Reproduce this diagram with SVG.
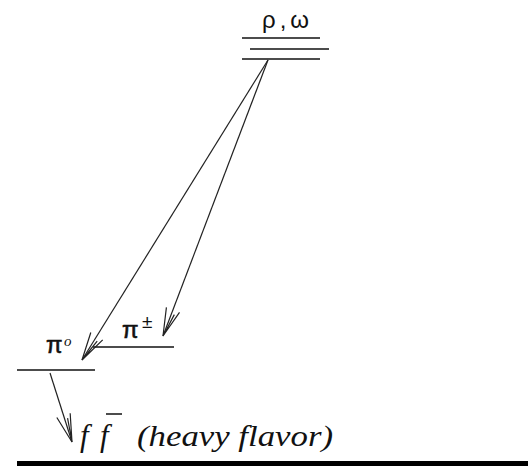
<svg xmlns="http://www.w3.org/2000/svg" width="528" height="467" viewBox="0 0 528 467">
<style>
.lvl{stroke:#111;stroke-width:1.6;fill:none}
.arr{stroke:#222;stroke-width:1.2;fill:none;marker-end:url(#head)}
.sym{font-family:"Liberation Sans","DejaVu Sans",sans-serif;fill:#111}
.pi{stroke:#111;stroke-width:0.6}
.it{font-family:"Liberation Serif","DejaVu Serif",serif;font-style:italic;fill:#111}
</style>
<defs>
<marker id="head" markerUnits="userSpaceOnUse" markerWidth="40" markerHeight="20" refX="0" refY="0" viewBox="-32 -10 34 20" orient="auto" overflow="visible">
<path d="M -28 -7 L 0 0 L -28 7 M -24 -3 L 0 0" fill="none" stroke="#222" stroke-width="1.2"/>
</marker>
</defs>
<rect width="528" height="467" fill="#fff"/>
<g id="rho-omega">
<text class="sym" x="262" y="28" font-size="24" letter-spacing="4">ρ,ω</text>
<line class="lvl" x1="242" y1="38" x2="320" y2="38"/>
<line class="lvl" x1="250" y1="49" x2="329" y2="49"/>
<line class="lvl" x1="242" y1="59" x2="320" y2="59"/>
</g>
<g id="pi-charged">
<text class="sym pi" x="122" y="338" font-size="24">π</text>
<text class="sym" x="142" y="328" font-size="19">±</text>
<line class="lvl" x1="93" y1="347" x2="174" y2="347"/>
</g>
<g id="pi-zero">
<text class="sym pi" x="46" y="353" font-size="24">π</text>
<text class="it" x="64" y="346" font-size="15">o</text>
<line class="lvl" x1="17" y1="370" x2="95" y2="370"/>
</g>
<g id="ffbar">
<text class="it" x="80" y="446" font-size="31">f</text>
<text class="it" x="100" y="446" font-size="31">f</text>
<line x1="106" y1="414" x2="122" y2="414" stroke="#111" stroke-width="1.5"/>
<text class="it" x="137" y="446" font-size="30" textLength="196" lengthAdjust="spacingAndGlyphs">(heavy flavor)</text>
</g>
<g id="connectors">
<line class="arr" x1="268" y1="60" x2="82" y2="360"/>
<line class="arr" x1="268" y1="60" x2="163" y2="336"/>
<line class="arr" x1="50" y1="373" x2="72" y2="442"/>
</g>
<rect x="17" y="461" width="511" height="5" fill="#000"/>
</svg>
